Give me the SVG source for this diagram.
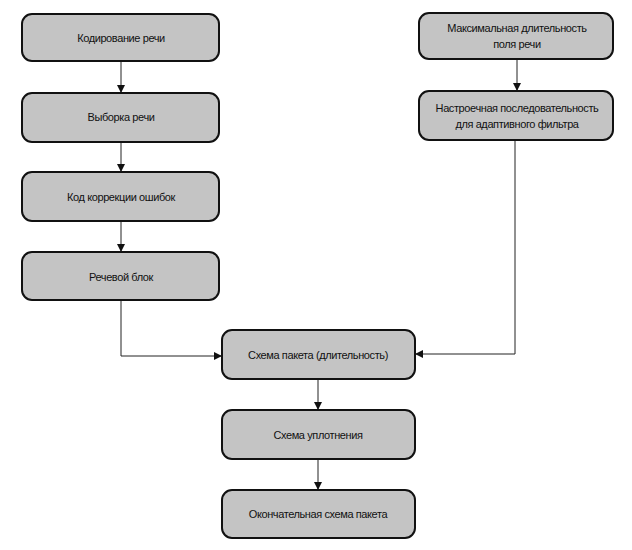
<svg xmlns="http://www.w3.org/2000/svg" width="632" height="550" viewBox="0 0 632 550">
<style>
.box{fill:#c4c4c4;stroke:#111;stroke-width:2}
.t{font-family:"Liberation Sans",Arial,sans-serif;font-size:11px;fill:#111;text-anchor:middle;letter-spacing:-0.4px}
.c{fill:none;stroke:#222;stroke-width:1}
</style>
<defs><marker id="a" viewBox="0 0 10 10" refX="10" refY="5" markerWidth="8" markerHeight="8" orient="auto" markerUnits="userSpaceOnUse"><path d="M0,0L10,5L0,10z" fill="#111"/></marker></defs>
<rect width="632" height="550" fill="#fff"/>
<g id="connectors">
<line class="c" x1="121" y1="61" x2="121" y2="93" marker-end="url(#a)"/>
<line class="c" x1="121" y1="142" x2="121" y2="172" marker-end="url(#a)"/>
<line class="c" x1="121" y1="221" x2="121" y2="252" marker-end="url(#a)"/>
<line class="c" x1="517" y1="59" x2="517" y2="91" marker-end="url(#a)"/>
<polyline class="c" points="121,300 121,356 222,356" marker-end="url(#a)"/>
<polyline class="c" points="515,140 515,354 415,354" marker-end="url(#a)"/>
<line class="c" x1="318" y1="379" x2="318" y2="410" marker-end="url(#a)"/>
<line class="c" x1="318" y1="459" x2="318" y2="490" marker-end="url(#a)"/>
</g>
<g id="n1"><rect class="box" x="22" y="14" width="197" height="47" rx="10"/><text class="t" x="121" y="42">Кодирование речи</text></g>
<g id="n2"><rect class="box" x="22" y="93" width="197" height="49" rx="10"/><text class="t" x="121" y="121">Выборка речи</text></g>
<g id="n3"><rect class="box" x="22" y="172" width="197" height="49" rx="10"/><text class="t" x="121" y="201">Код коррекции ошибок</text></g>
<g id="n4"><rect class="box" x="22" y="252" width="197" height="48" rx="10"/><text class="t" x="121" y="281">Речевой блок</text></g>
<g id="n5"><rect class="box" x="419" y="13" width="194" height="46" rx="10"/><text class="t" x="517" y="32">Максимальная длительность</text><text class="t" x="517" y="48">поля речи</text></g>
<g id="n6"><rect class="box" x="419" y="91" width="194" height="49" rx="10"/><text class="t" x="517" y="112">Настроечная последовательность</text><text class="t" x="517" y="128">для адаптивного фильтра</text></g>
<g id="n7"><rect class="box" x="222" y="330" width="193" height="49" rx="10"/><text class="t" x="318" y="359">Схема пакета (длительность)</text></g>
<g id="n8"><rect class="box" x="222" y="410" width="193" height="49" rx="10"/><text class="t" x="318" y="439">Схема уплотнения</text></g>
<g id="n9"><rect class="box" x="222" y="490" width="193" height="48" rx="10"/><text class="t" x="318" y="518">Окончательная схема пакета</text></g>
</svg>
